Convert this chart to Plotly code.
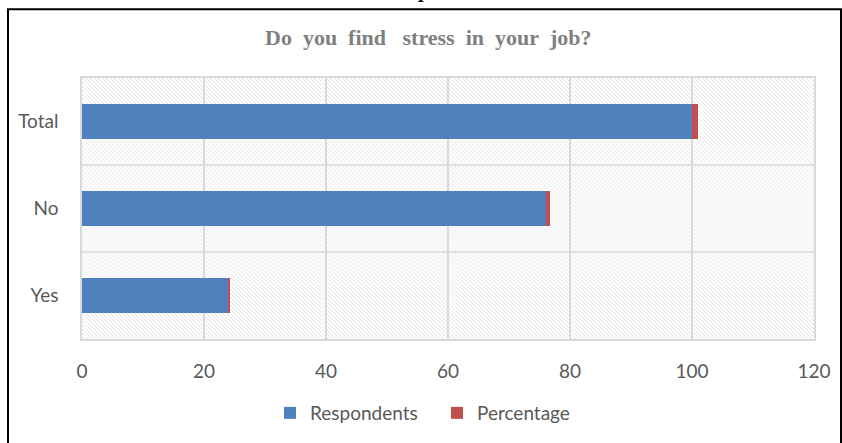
import base64
import plotly.graph_objects as go

# Survey answers and their counts / shares
categories = ["Yes", "No", "Total"]
respondents = [24, 76, 100]
percentage = [0.24, 0.76, 1.00]
x_ticks = [0, 20, 40, 60, 80, 100, 120]

BLUE = "#4f81bd"
RED = "#c0504d"
GRID = "#d9d9d9"
TEXT = "#595959"

W, H = 842, 443
L, R, T, B = 82, 28, 78, 103
PW, PH = W - L - R, H - T - B


def px_x(px):
    return (px - L) / PW


def px_y(py):
    return (H - B - py) / PH


# diagonal hatch texture for the plot background
hatch_svg = (
    f'<svg xmlns="http://www.w3.org/2000/svg" width="{PW}" height="{PH}">'
    '<defs><pattern id="h" width="4" height="4" patternUnits="userSpaceOnUse">'
    '<path d="M0,0 L4,4 M-1,3 L1,5 M3,-1 L5,1" stroke="#e0e0e0" stroke-width="0.9"/>'
    '</pattern></defs>'
    '<rect width="100%" height="100%" fill="url(#h)"/></svg>'
)
hatch_uri = "data:image/svg+xml;base64," + base64.b64encode(hatch_svg.encode()).decode()

fig = go.Figure()
fig.add_trace(go.Bar(
    y=categories, x=respondents, name="Respondents", orientation="h",
    marker=dict(color=BLUE, line=dict(width=0)), width=0.4,
))
fig.add_trace(go.Bar(
    y=categories, x=percentage, name="Percentage", orientation="h",
    marker=dict(color=RED, line=dict(width=0)), width=0.4,
))

shapes = []
# separators between category bands
for yv in (0.5, 1.5):
    shapes.append(dict(type="line", xref="paper", yref="y", x0=0, x1=1, y0=yv, y1=yv,
                       line=dict(color=GRID, width=1.5), layer="below"))
# outer frame
shapes.append(dict(type="rect", xref="paper", yref="paper",
                   x0=px_x(8), x1=px_x(841), y0=px_y(460), y1=px_y(9),
                   line=dict(color="#000000", width=2), fillcolor="rgba(0,0,0,0)"))

title_text = "Do\u00a0\u00a0you\u00a0\u00a0find\u00a0\u00a0\u00a0stress\u00a0\u00a0in\u00a0\u00a0your\u00a0\u00a0job?"

fig.update_layout(
    width=W, height=H,
    margin=dict(l=L, r=R, t=T, b=B),
    paper_bgcolor="white",
    plot_bgcolor="rgba(0,0,0,0)",
    barmode="stack",
    showlegend=True,
    font=dict(family="Lato, sans-serif", size=19, color=TEXT),
    xaxis=dict(
        range=[0, 120], tickvals=x_ticks, ticktext=[str(v) for v in x_ticks],
        showgrid=True, gridcolor=GRID, gridwidth=1.5,
        zeroline=False, showline=True, mirror=True, linecolor=GRID, linewidth=1.5,
        ticks="", ticklabelstandoff=14, fixedrange=True,
    ),
    yaxis=dict(
        type="category", categoryorder="array", categoryarray=categories,
        range=[-0.5, 2.5], showgrid=False, zeroline=False,
        showline=True, mirror=True, linecolor=GRID, linewidth=1.5,
        ticks="", ticklabelstandoff=18, fixedrange=True,
    ),
    legend=dict(
        orientation="h", x=px_x(437), xanchor="center", y=px_y(413), yanchor="middle",
        font=dict(family="Lato, sans-serif", size=19, color=TEXT),
        entrywidth=122, entrywidthmode="pixels", bgcolor="rgba(0,0,0,0)",
        traceorder="normal",
    ),
    images=[dict(source=hatch_uri, xref="paper", yref="paper", x=0, y=1,
                 sizex=1, sizey=1, sizing="stretch", xanchor="left", yanchor="top",
                 layer="below")],
    shapes=shapes,
    annotations=[
        dict(text=f"<b>{title_text}</b>", xref="paper", yref="paper",
             x=px_x(428), y=px_y(37), xanchor="center", yanchor="middle", showarrow=False,
             font=dict(family="Liberation Serif, serif", size=22, color="#7f7f7f")),
        dict(text="<b>p</b>", xref="paper", yref="paper",
             x=px_x(423), y=px_y(-10), xanchor="center", yanchor="middle", showarrow=False,
             font=dict(family="Liberation Serif, serif", size=20, color="#000000")),
    ],
)

fig.write_html("out.html")
